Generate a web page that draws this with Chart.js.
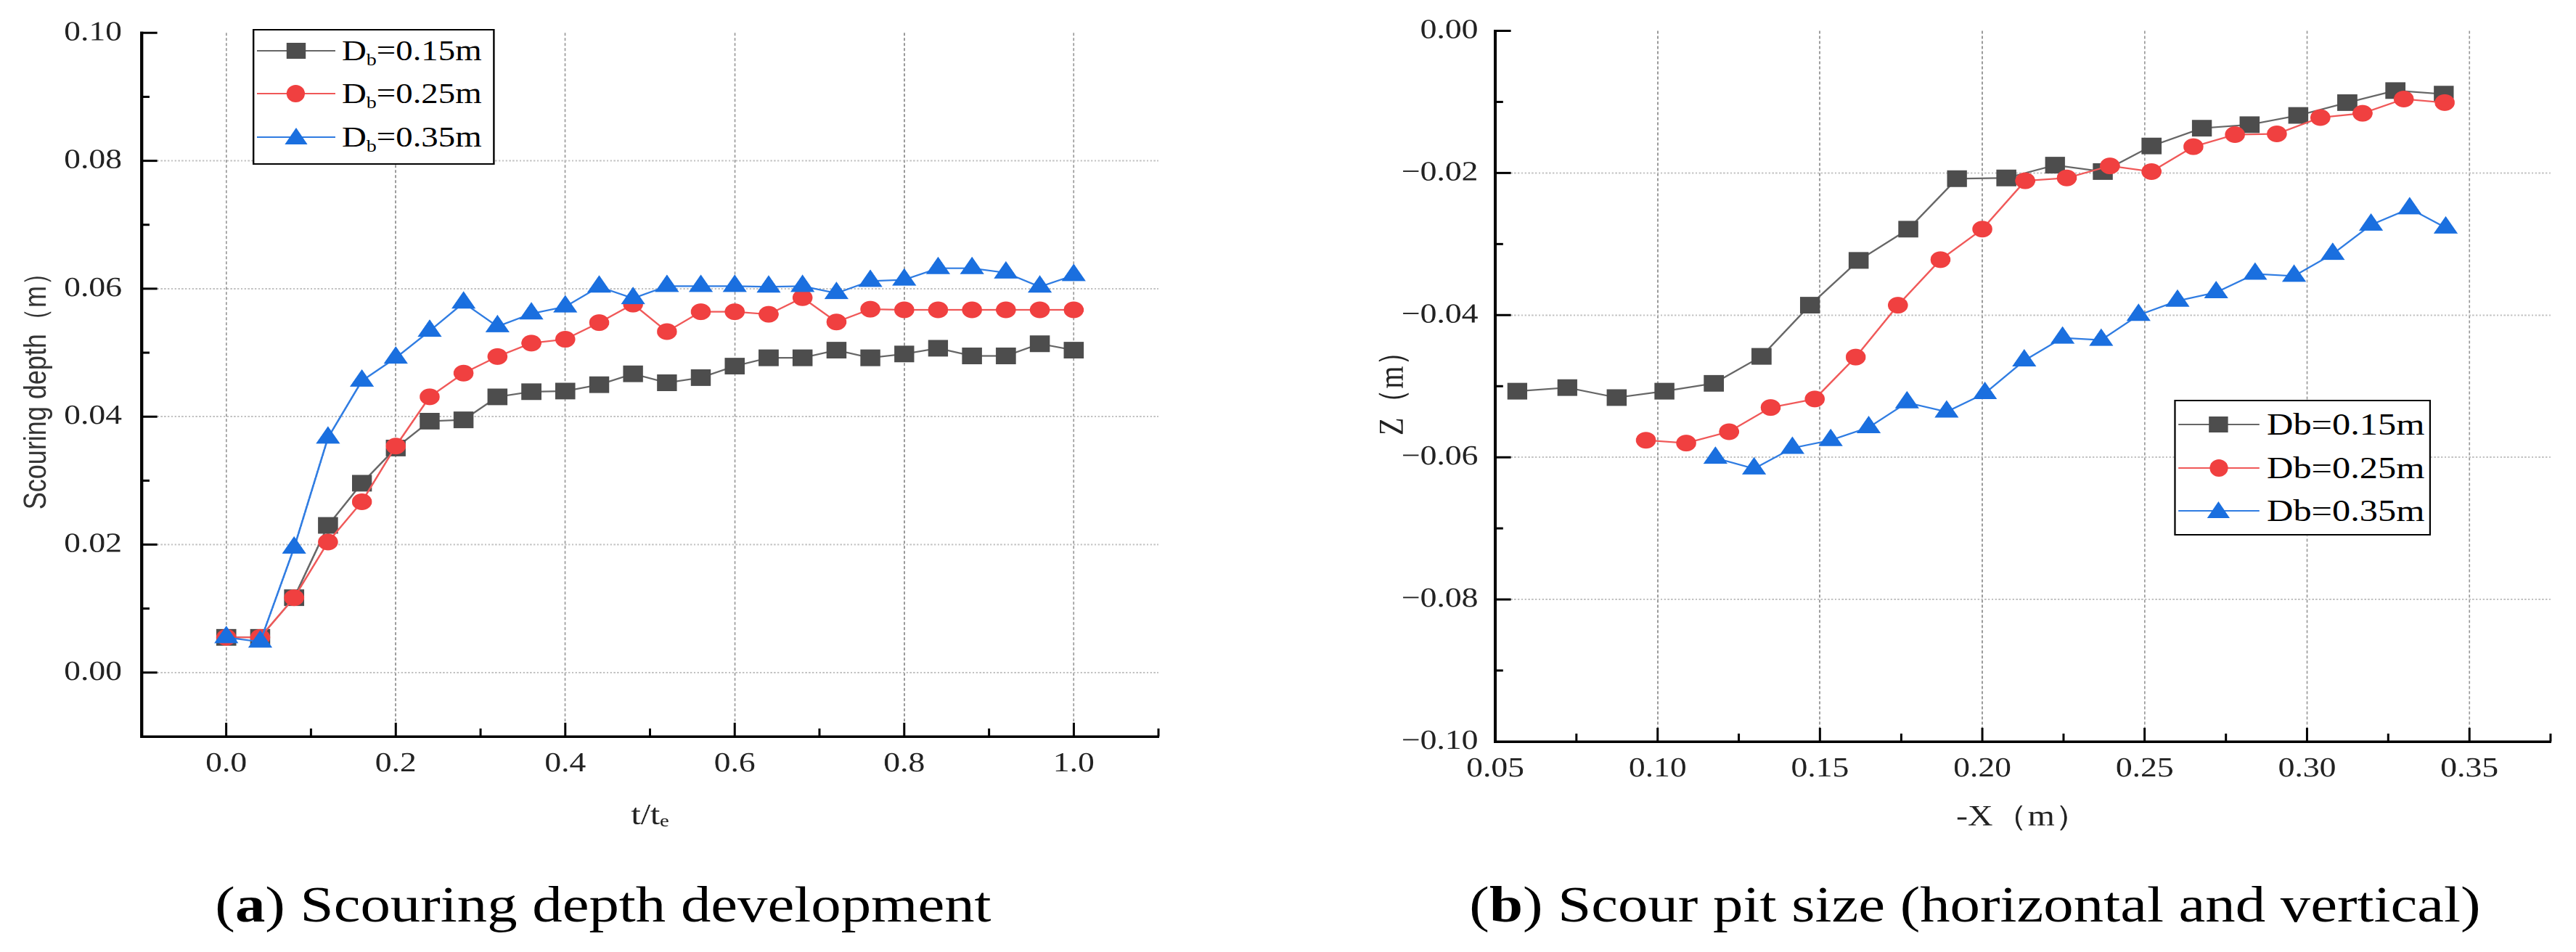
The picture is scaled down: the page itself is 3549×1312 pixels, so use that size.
<!DOCTYPE html>
<html>
<head>
<meta charset="utf-8">
<script src="https://cdn.jsdelivr.net/npm/chart.js@4.4.0/dist/chart.umd.min.js"></script>
<style>
  html, body { margin: 0; padding: 0; background: #fff; }
  body { width: 3549px; height: 1312px; overflow: hidden; position: relative; }
  /* the original figure is stretched horizontally, so draw narrower and widen */
  #wrap { position: absolute; left: 0; top: 0; width: 2958px; height: 1312px;
          transform: scaleX(1.2); transform-origin: 0 0; }
  canvas { position: absolute; top: 0; }
  #cLeft { left: 0; }
  #cRight { left: 1480px; }
  .legend { position: absolute; box-sizing: border-box; border: 2.5px solid #000; background: #fff;
            font-family: "Liberation Serif", "Times New Roman", serif; color: #000; }
  .row { position: absolute; left: 0; right: 0; height: 60px; }
  .line { position: absolute; top: 29px; height: 2.5px; }
  .mk { position: absolute; }
  .txt { position: absolute; top: 0; line-height: 60px; white-space: nowrap; }
  .txt sub { font-size: 0.6em; vertical-align: -0.3em; line-height: 0; }
  .caption { position: absolute; top: 1213px; font-family: "Liberation Serif", "Times New Roman", serif;
             font-size: 69px; line-height: 1; text-align: center; white-space: nowrap; color: #000; }
</style>
</head>
<body>
<div id="wrap">
  <canvas id="cLeft" width="1400" height="1180"></canvas>
  <canvas id="cRight" width="1478" height="1180"></canvas>
  <div id="legLeft" class="legend" style="left:290px;top:40px;width:278px;height:187px"></div>
  <div id="legRight" class="legend" style="left:2496px;top:551px;width:295px;height:187px"></div>
  <div class="caption" style="left:0;width:1385px">(<b>a</b>) Scouring depth development</div>
  <div class="caption" style="left:1577px;width:1381px">(<b>b</b>) Scour pit size (horizontal and vertical)</div>
</div>
<script>
// ---- data ----
const seriesNames = ['Db=0.15m', 'Db=0.25m', 'Db=0.35m'];

// (a) scouring depth vs t/te
const leftTime = [0, 0.04, 0.08, 0.12, 0.16, 0.20, 0.24, 0.28, 0.32, 0.36, 0.40, 0.44, 0.48,
                  0.52, 0.56, 0.60, 0.64, 0.68, 0.72, 0.76, 0.80, 0.84, 0.88, 0.92, 0.96, 1.00];
const depthDb015 = [0.0055, 0.0055, 0.0117, 0.0230, 0.0296, 0.0351, 0.0393, 0.0395, 0.0431, 0.0439, 0.0440, 0.0450, 0.0467,
                    0.0453, 0.0461, 0.0479, 0.0492, 0.0492, 0.0504, 0.0492, 0.0498, 0.0507, 0.0495, 0.0495, 0.0514, 0.0504];
const depthDb025 = [0.0055, 0.0055, 0.0117, 0.0204, 0.0267, 0.0354, 0.0431, 0.0468, 0.0494, 0.0515, 0.0521, 0.0547, 0.0576,
                    0.0533, 0.0564, 0.0564, 0.0560, 0.0586, 0.0548, 0.0568, 0.0567, 0.0567, 0.0567, 0.0567, 0.0567, 0.0567];
const depthDb035 = [0.0055, 0.0048, 0.0195, 0.0367, 0.0456, 0.0492, 0.0534, 0.0578, 0.0541, 0.0561, 0.0572, 0.0603, 0.0585,
                    0.0604, 0.0604, 0.0604, 0.0603, 0.0604, 0.0593, 0.0612, 0.0614, 0.0632, 0.0632, 0.0625, 0.0603, 0.0621];

// (b) scour pit profile, -X and Z
const pitX015 = [0.0568, 0.0722, 0.0874, 0.1021, 0.1173, 0.1320, 0.1469, 0.1619, 0.1772, 0.1922,
                 0.2074, 0.2224, 0.2371, 0.2521, 0.2676, 0.2823, 0.2973, 0.3124, 0.3272, 0.3421];
const pitZ015 = [-0.0507, -0.0502, -0.0516, -0.0507, -0.0496, -0.0458, -0.0386, -0.0323, -0.0279, -0.0208,
                 -0.0207, -0.0189, -0.0198, -0.0162, -0.0137, -0.0132, -0.0119, -0.0101, -0.0084, -0.0089];
const pitX025 = [0.0964, 0.1088, 0.1220, 0.1348, 0.1484, 0.1610, 0.1740, 0.1871, 0.2000, 0.2132,
                 0.2260, 0.2393, 0.2521, 0.2650, 0.2778, 0.2907, 0.3041, 0.3171, 0.3298, 0.3424];
const pitZ025 = [-0.0576, -0.0580, -0.0564, -0.0530, -0.0518, -0.0459, -0.0386, -0.0322, -0.0279, -0.0211,
                 -0.0207, -0.0190, -0.0198, -0.0163, -0.0146, -0.0145, -0.0122, -0.0116, -0.0096, -0.0101];
const pitX035 = [0.1178, 0.1297, 0.1415, 0.1533, 0.1650, 0.1768, 0.1890, 0.2008, 0.2129, 0.2247,
                 0.2366, 0.2481, 0.2601, 0.2720, 0.2840, 0.2960, 0.3079, 0.3197, 0.3316, 0.3427];
const pitZ035 = [-0.0601, -0.0616, -0.0587, -0.0576, -0.0558, -0.0523, -0.0536, -0.0510, -0.0464, -0.0432,
                 -0.0435, -0.0400, -0.0380, -0.0368, -0.0342, -0.0345, -0.0314, -0.0273, -0.0250, -0.0277];

// tick values
const leftXTicks = [0, 0.2, 0.4, 0.6, 0.8, 1.0];
const leftXMinor = [0.1, 0.3, 0.5, 0.7, 0.9, 1.1];
const leftYTicks = [0, 0.02, 0.04, 0.06, 0.08, 0.10];
const leftYMinor = [0.01, 0.03, 0.05, 0.07, 0.09];
const rightXTicks = [0.05, 0.10, 0.15, 0.20, 0.25, 0.30, 0.35];
const rightXMinor = [0.075, 0.125, 0.175, 0.225, 0.275, 0.325, 0.375];
const rightYTicks = [-0.10, -0.08, -0.06, -0.04, -0.02, 0];
const rightYMinor = [-0.09, -0.07, -0.05, -0.03, -0.01];

const markColors = ['#4d4d4d', '#f04040', '#1a6fdf'];
const lineColors = ['#666666', '#f05858', '#2f7ce2'];
const markStyles = ['rect', 'circle', 'triangle'];
const markRadius = [15.5, 11, 15];

// ---- chart setup ----
const SERIF = '"Liberation Serif", "Times New Roman", serif';
Chart.defaults.font.family = SERIF;
Chart.defaults.color = '#222';

function pairUp(xs, ys) {
  return xs.map((x, i) => ({ x: x, y: ys[i] }));
}

function makeDataset(i, xs, ys) {
  return {
    label: seriesNames[i],
    data: pairUp(xs, ys),
    showLine: true,
    borderColor: lineColors[i],
    borderWidth: 2.2,
    backgroundColor: markColors[i],
    pointStyle: markStyles[i],
    pointRadius: markRadius[i],
    pointBackgroundColor: markColors[i],
    pointBorderColor: markColors[i],
    pointBorderWidth: 1,
    order: 2 - i
  };
}

// Origin style ticks pointing into the plot, majors and minors
const inwardTicks = {
  id: 'inwardTicks',
  afterDraw(chart, args, o) {
    const ctx = chart.ctx;
    const a = chart.chartArea;
    const sx = chart.scales.x, sy = chart.scales.y;
    ctx.save();
    ctx.strokeStyle = '#000';
    const mark = (vals, len, width, onX) => {
      ctx.lineWidth = width;
      vals.forEach(v => {
        ctx.beginPath();
        if (onX) {
          const px = sx.getPixelForValue(v);
          ctx.moveTo(px, a.bottom);
          ctx.lineTo(px, a.bottom - len);
        } else {
          const py = sy.getPixelForValue(v);
          ctx.moveTo(a.left, py);
          ctx.lineTo(a.left + len, py);
        }
        ctx.stroke();
      });
    };
    mark(o.xMajor, 19, 2.5, true);
    mark(o.xMinor, 11, 2.5, true);
    mark(o.yMajor, 18, 3, false);
    mark(o.yMinor, 9, 3, false);
    ctx.restore();
  }
};

const near = (a, b) => Math.abs(a - b) < 1e-9;
const fmtNum = (v, d) => (v < -1e-9 ? '\u2212' : '') + Math.abs(v).toFixed(d);

function baseScales(cfg) {
  return {
    x: {
      type: 'linear', min: cfg.xMin, max: cfg.xMax,
      afterBuildTicks: s => { s.ticks = cfg.xTicks.map(v => ({ value: v })); },
      afterFit: s => { s.height = cfg.xHeight; },
      ticks: { callback: v => fmtNum(v, cfg.xDec), padding: 15, font: { size: 38 }, maxRotation: 0, autoSkip: false, color: '#222' },
      grid: { drawTicks: false, lineWidth: 1.5,
              color: c => (c.tick && cfg.xHide.some(h => near(h, c.tick.value))) ? 'rgba(0,0,0,0)' : '#9a9a9a' },
      border: { display: true, color: '#000', width: 3.5, dash: [4, 3] },
      title: cfg.xTitle
    },
    y: {
      type: 'linear', min: cfg.yMin, max: cfg.yMax,
      afterBuildTicks: s => { s.ticks = cfg.yTicks.map(v => ({ value: v })); },
      afterFit: s => { s.width = cfg.yWidth; },
      ticks: { callback: v => fmtNum(v, 2), padding: cfg.yPad, font: { size: 38 }, autoSkip: false, color: '#222' },
      grid: { drawTicks: false, lineWidth: 2,
              color: c => (c.tick && cfg.yHide.some(h => near(h, c.tick.value))) ? 'rgba(0,0,0,0)' : '#c2c2c2' },
      border: { display: true, color: '#000', width: 3.5, dash: [2, 2] },
      title: cfg.yTitle
    }
  };
}

new Chart(document.getElementById('cLeft'), {
  type: 'scatter',
  data: {
    datasets: [
      makeDataset(0, leftTime, depthDb015),
      makeDataset(1, leftTime, depthDb025),
      makeDataset(2, leftTime, depthDb035)
    ]
  },
  options: {
    responsive: false, animation: false, devicePixelRatio: 2,
    layout: { padding: { left: 0, top: 42, right: 70, bottom: 0 } },
    plugins: {
      legend: { display: false }, tooltip: { enabled: false },
      inwardTicks: { xMajor: leftXTicks, xMinor: leftXMinor, yMajor: leftYTicks, yMinor: leftYMinor }
    },
    scales: baseScales({
      xMin: -0.1, xMax: 1.1, xTicks: leftXTicks, xDec: 1, xHeight: 165, xHide: [],
      yMin: -0.01, yMax: 0.10, yTicks: leftYTicks, yWidth: 162.5, yPad: 22.5, yHide: [0.10],
      xTitle: { display: true, text: 't/t\u2091', color: '#222', font: { size: 40 }, padding: { top: 0, bottom: 31 } },
      yTitle: { display: true, text: 'Scouring depth\uff08m\uff09', color: '#333',
                font: { size: 36, family: '"Liberation Sans", Arial, sans-serif' }, padding: { top: 21, bottom: 0 } }
    })
  },
  plugins: [inwardTicks]
});

new Chart(document.getElementById('cRight'), {
  type: 'scatter',
  data: {
    datasets: [
      makeDataset(0, pitX015, pitZ015),
      makeDataset(1, pitX025, pitZ025),
      makeDataset(2, pitX035, pitZ035)
    ]
  },
  options: {
    responsive: false, animation: false, devicePixelRatio: 2,
    layout: { padding: { left: 0, top: 40, right: 29.7, bottom: 0 } },
    plugins: {
      legend: { display: false }, tooltip: { enabled: false },
      inwardTicks: { xMajor: rightXTicks, xMinor: rightXMinor, yMajor: rightYTicks, yMinor: rightYMinor }
    },
    scales: baseScales({
      xMin: 0.05, xMax: 0.375, xTicks: rightXTicks, xDec: 2, xHeight: 158, xHide: [0.05],
      yMin: -0.10, yMax: 0, yTicks: rightYTicks, yWidth: 236.7, yPad: 19.7, yHide: [0, -0.10],
      xTitle: { display: true, text: '-X\uff08m\uff09', color: '#222', font: { size: 40 }, padding: { top: 0, bottom: 29 } },
      yTitle: { display: true, text: 'Z\uff08m\uff09', color: '#222', font: { size: 40 }, padding: { top: 96, bottom: 0 } }
    })
  },
  plugins: [inwardTicks]
});

// ---- legends (HTML so the subscript can stay real text) ----
function buildLegend(el, labels, opt) {
  labels.forEach((html, i) => {
    const row = document.createElement('div');
    row.className = 'row';
    row.style.top = (opt.rows[i] - 30) + 'px';
    let mk;
    if (markStyles[i] === 'rect') {
      mk = `left:${opt.mk - 11}px;top:19px;width:22px;height:22px;background:${markColors[i]}`;
    } else if (markStyles[i] === 'circle') {
      mk = `left:${opt.mk - 10.5}px;top:18px;width:21px;height:24px;border-radius:50%;background:${markColors[i]}`;
    } else {
      mk = `left:${opt.mk - 13}px;top:17px;width:0;height:0;border-left:13px solid transparent;` +
           `border-right:13px solid transparent;border-bottom:23px solid ${markColors[i]}`;
    }
    row.innerHTML =
      `<div class="line" style="left:${opt.lineL}px;width:${opt.lineW}px;background:${lineColors[i]}"></div>` +
      `<div class="mk" style="${mk}"></div>` +
      `<span class="txt" style="left:${opt.txt}px;font-size:${opt.size}px">${html}</span>`;
    el.appendChild(row);
  });
}

buildLegend(document.getElementById('legLeft'),
  seriesNames.map(n => n.replace('Db', 'D<sub>b</sub>')),
  { rows: [27.5, 86.5, 146.5], lineL: 2.5, lineW: 90, mk: 47.5, txt: 100.5, size: 39 });
buildLegend(document.getElementById('legRight'),
  seriesNames,
  { rows: [31.5, 91.5, 150.5], lineL: 2.5, lineW: 93, mk: 49, txt: 104.5, size: 42 });
</script>
</body>
</html>
